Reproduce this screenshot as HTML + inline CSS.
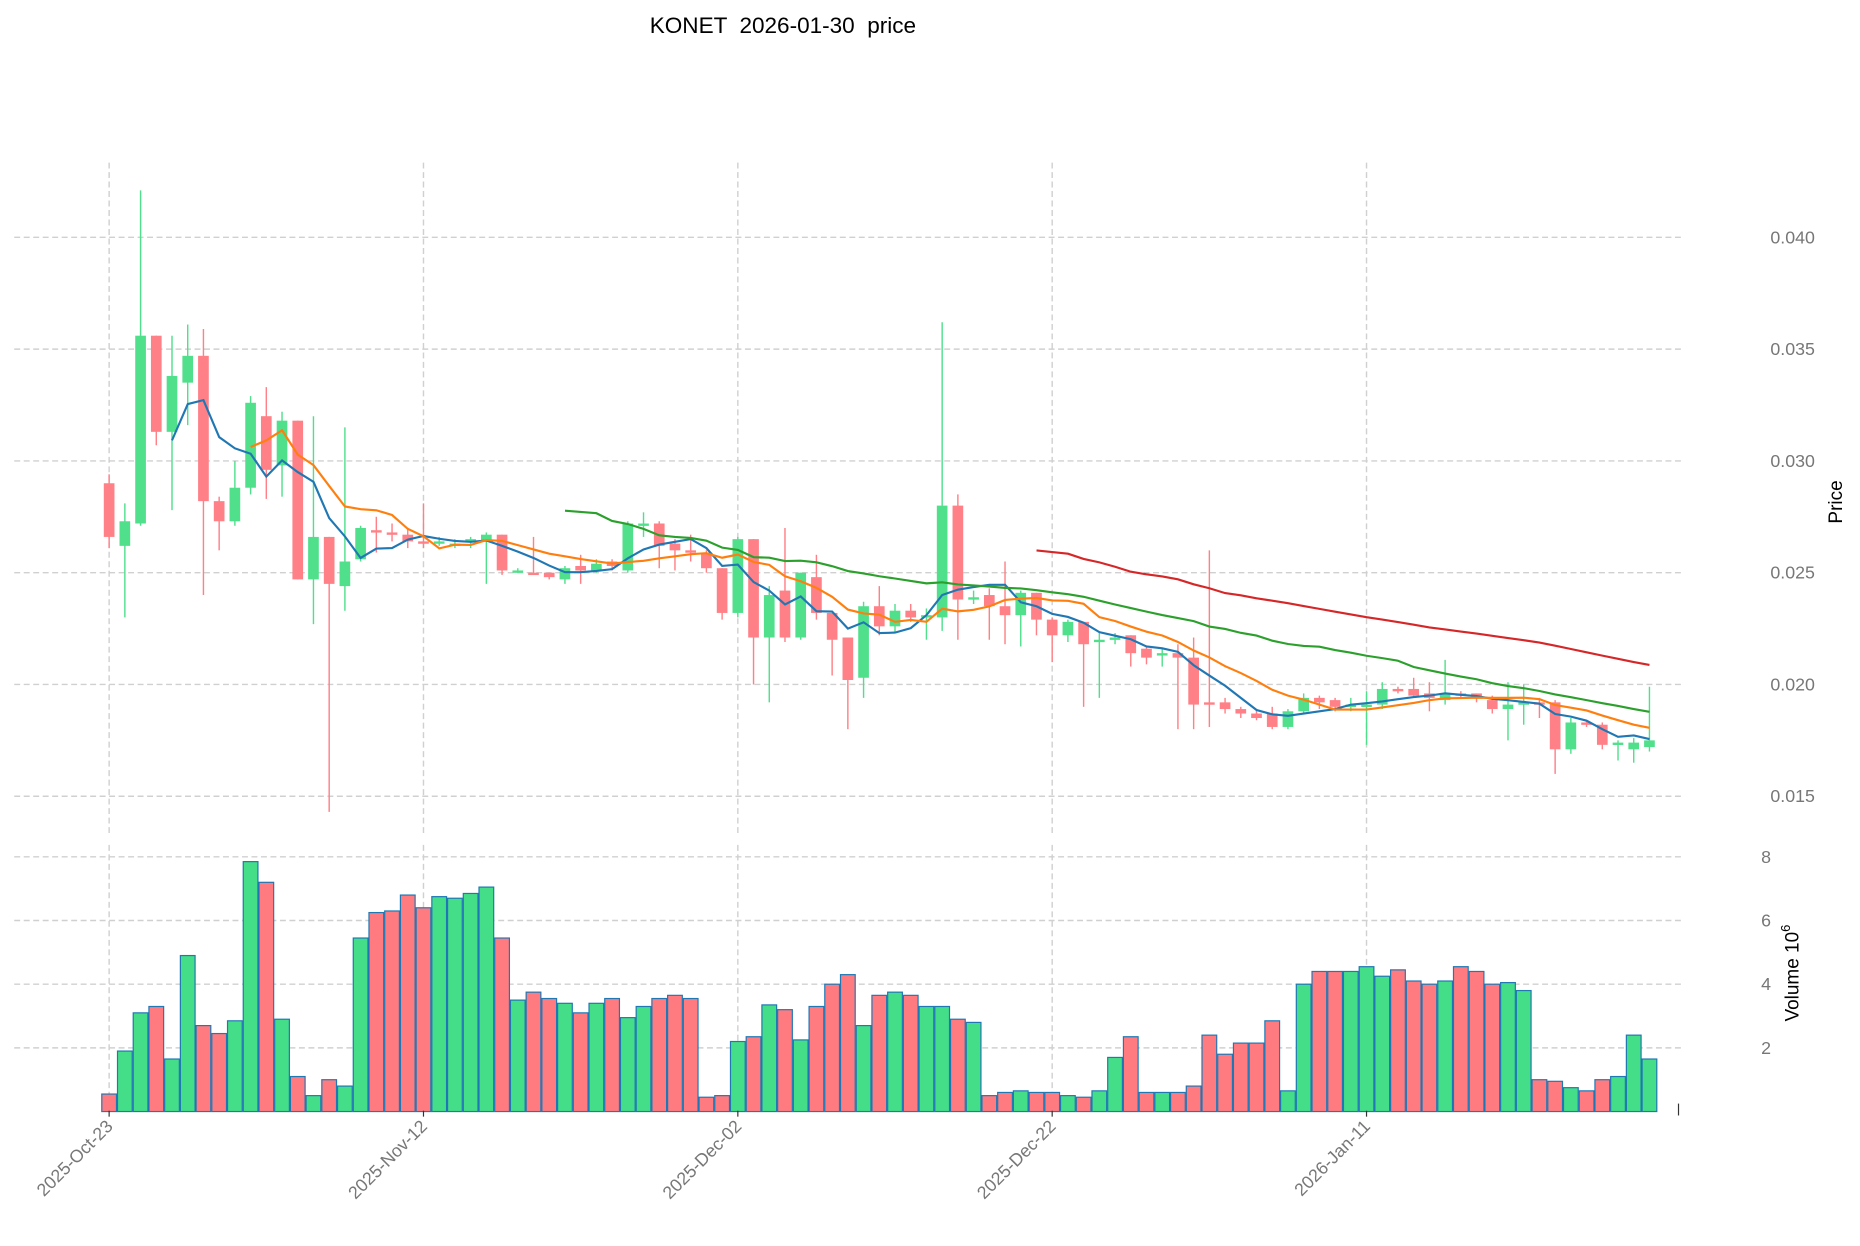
<!DOCTYPE html>
<html><head><meta charset="utf-8"><style>
body{margin:0;background:#fff;}
svg{display:block;font-family:"Liberation Sans","DejaVu Sans",sans-serif;}
</style></head><body>
<svg id="chart" width="1860" height="1246" viewBox="0 0 1568 1050" preserveAspectRatio="none" xmlns="http://www.w3.org/2000/svg">
<text x="660" y="28" font-size="19" text-anchor="middle" fill="#000" xml:space="preserve">KONET  2026-01-30  price</text>
<g id="grid"></g>
<g id="vol"></g>
<g id="candles"></g>
<g id="mas"></g>
<g id="axes"></g>
<text transform="translate(1553,423) rotate(-90)" font-size="16" text-anchor="middle" fill="#000">Price</text>
<text transform="translate(1516,820) rotate(-90)" font-size="16" text-anchor="middle" fill="#000">Volume  10<tspan dy="-7" font-size="11">6</tspan></text>
</svg>
<script>
const dateLabels=["2025-Oct-23","2025-Nov-12","2025-Dec-02","2025-Dec-22","2026-Jan-11"];
const dateIdx=[0,20,40,60,80];
const priceTicks=[0.015,0.020,0.025,0.030,0.035,0.040];
const volTicks=[2,4,6,8];
const opens=[.0290,.0262,.0272,.0356,.0313,.0335,.0347,.0282,.0273,.0288,.0320,.0298,.0318,.0247,.0266,.0244,.0256,.0269,.0268,.0267,.0264,.0263,.0262,.0264,.0264,.0267,.0251,.0250,.0250,.0247,.0253,.0251,.0255,.0251,.0271,.0272,.0263,.0260,.0259,.0252,.0232,.0265,.0221,.0242,.0221,.0248,.0232,.0221,.0203,.0235,.0226,.0233,.0230,.0230,.0280,.0238,.0240,.0235,.0231,.0241,.0229,.0222,.0228,.0219,.0220,.0222,.0216,.0213,.0214,.0212,.0192,.0192,.0189,.0187,.0187,.0181,.0188,.0194,.0193,.0190,.0190,.0191,.0198,.0198,.0196,.0193,.0196,.0196,.0193,.0189,.0191,.0192,.0192,.0171,.0183,.0182,.0173,.0171,.0172];
const closes=[.0266,.0273,.0356,.0313,.0338,.0347,.0282,.0273,.0288,.0326,.0296,.0318,.0247,.0266,.0245,.0255,.0270,.0268,.0267,.0264,.0263,.0264,.0263,.0265,.0267,.0251,.0251,.0249,.0248,.0252,.0251,.0254,.0253,.0272,.0272,.0262,.0260,.0259,.0252,.0232,.0265,.0221,.0240,.0221,.0250,.0232,.0220,.0202,.0235,.0226,.0233,.0230,.0231,.0280,.0238,.0239,.0235,.0231,.0241,.0229,.0222,.0228,.0218,.0220,.0221,.0214,.0212,.0214,.0212,.0191,.0191,.0189,.0187,.0185,.0181,.0188,.0194,.0192,.0190,.0191,.0191,.0198,.0197,.0195,.0194,.0196,.0195,.0194,.0189,.0191,.0192,.0191,.0171,.0183,.0182,.0173,.0174,.0174,.0175];
const highs=[.0294,.0281,.0421,.0356,.0356,.0361,.0359,.0284,.0300,.0329,.0333,.0322,.0318,.0320,.0266,.0315,.0271,.0275,.0272,.0270,.0281,.0266,.0265,.0266,.0268,.0267,.0252,.0266,.0250,.0253,.0258,.0256,.0256,.0273,.0277,.0273,.0265,.0267,.0260,.0252,.0266,.0265,.0244,.0270,.0250,.0258,.0232,.0221,.0237,.0244,.0236,.0236,.0234,.0362,.0285,.0242,.0243,.0255,.0242,.0241,.0230,.0229,.0228,.0223,.0223,.0222,.0217,.0216,.0218,.0221,.0260,.0194,.0190,.0189,.0190,.0189,.0196,.0195,.0194,.0194,.0197,.0201,.0199,.0203,.0201,.0211,.0197,.0196,.0195,.0201,.0200,.0194,.0193,.0185,.0184,.0183,.0175,.0176,.0199];
const lows=[.0261,.0230,.0271,.0307,.0278,.0316,.0240,.0260,.0271,.0285,.0283,.0284,.0247,.0227,.0143,.0233,.0255,.0259,.0264,.0261,.0261,.0262,.0261,.0261,.0245,.0249,.0250,.0249,.0247,.0245,.0245,.0250,.0251,.0250,.0266,.0252,.0251,.0255,.0250,.0229,.0230,.0200,.0192,.0219,.0220,.0229,.0204,.0180,.0194,.0222,.0223,.0228,.0220,.0224,.0220,.0236,.0220,.0218,.0217,.0222,.0210,.0219,.0190,.0194,.0218,.0208,.0209,.0208,.0180,.0180,.0181,.0187,.0185,.0184,.0180,.0180,.0187,.0189,.0188,.0188,.0173,.0189,.0196,.0194,.0188,.0191,.0194,.0192,.0187,.0175,.0182,.0185,.0160,.0169,.0181,.0171,.0166,.0165,.0170];
const volumes=[0.55,1.9,3.1,3.3,1.65,4.9,2.7,2.45,2.85,7.85,7.2,2.9,1.1,0.5,1.0,0.8,5.45,6.25,6.3,6.8,6.4,6.75,6.7,6.85,7.05,5.45,3.5,3.75,3.55,3.4,3.1,3.4,3.55,2.95,3.3,3.55,3.65,3.55,0.45,0.5,2.2,2.35,3.35,3.2,2.25,3.3,4.0,4.3,2.7,3.65,3.75,3.65,3.3,3.3,2.9,2.8,0.5,0.6,0.65,0.6,0.6,0.5,0.45,0.65,1.7,2.35,0.6,0.6,0.6,0.8,2.4,1.8,2.15,2.15,2.85,0.65,4.0,4.4,4.4,4.4,4.55,4.25,4.45,4.1,4.0,4.1,4.55,4.4,4.0,4.05,3.8,1.0,0.95,0.75,0.65,1.0,1.1,2.4,1.65];
const maPeriods=[5,10,30,60];
const maColors=["#1f77b4","#ff7f0e","#2ca02c","#d62728"];

const NS="http://www.w3.org/2000/svg";
const X=i=>92+i*13.25;
const Y=p=>200+(0.040-p)*18840;
const VY=v=>936.7-v*26.83;
function mk(parent,tag,attrs){const e=document.createElementNS(NS,tag);for(const k in attrs)e.setAttribute(k,attrs[k]);document.getElementById(parent).appendChild(e);return e;}

priceTicks.forEach((t,k)=>{
  const l=mk('grid','line',{x1:12,x2:1418,y1:Y(t),y2:Y(t),stroke:'#d0d0d0','stroke-dasharray':'5,3','stroke-width':1.2});
  
  
  const tx=mk('axes','text',{x:1530,y:Y(t)+5,'font-size':15,'text-anchor':'end',fill:'#777'});
  tx.textContent=t.toFixed(3);
  
  
});
volTicks.forEach(t=>{
  const l=mk('grid','line',{x1:12,x2:1418,y1:VY(t),y2:VY(t),stroke:'#d0d0d0','stroke-dasharray':'5,3','stroke-width':1.2});
  
  
  const tx=mk('axes','text',{x:1493,y:VY(t)+5,'font-size':15,'text-anchor':'end',fill:'#777'});
  tx.textContent=t;
  
  
});
dateIdx.forEach((d,k)=>{
  const x=X(d);
  const a=mk('grid','line',{x1:x,x2:x,y1:137,y2:702,stroke:'#d0d0d0','stroke-dasharray':'5,3','stroke-width':1.2});
  
  
  const b=mk('grid','line',{x1:x,x2:x,y1:712,y2:936,stroke:'#d0d0d0','stroke-dasharray':'5,3','stroke-width':1.2});
  
  
  const tk=mk('axes','line',{x1:x,x2:x,y1:936,y2:941,stroke:'#333','stroke-width':1});
  
  
  const tx=mk('axes','text',{transform:`translate(${x+4},${950}) rotate(-45)`,'font-size':15,'text-anchor':'end',fill:'#777'});
  tx.textContent=dateLabels[k];
  
  
});
const et=mk('axes','line',{x1:1415,x2:1415,y1:930,y2:940,stroke:'#333','stroke-width':1});



volumes.forEach((v,i)=>{
  const up=closes[i]>=opens[i];
  const r=mk('vol','rect',{x:X(i)-6.2,y:VY(v),width:12.4,height:936.7-VY(v),fill:up?'#44dd88':'#ff7b7f',stroke:'#1f77b4','stroke-width':1});
  
  
});
opens.forEach((o,i)=>{
  const c=closes[i],up=c>=o,col=up?'#50e08c':'#ff8086';
  const w=mk('candles','line',{x1:X(i),x2:X(i),y1:Y(highs[i]),y2:Y(lows[i]),stroke:col,'stroke-width':1.2});
  
  
  const top=Y(Math.max(o,c)),h=Math.max(2,Math.abs(Y(o)-Y(c)));
  const b=mk('candles','rect',{x:X(i)-4.5,y:top,width:9,height:h,fill:col});
  
  
});
maPeriods.forEach((p,k)=>{
  const pts=[];
  for(let i=p-1;i<closes.length;i++){let s=0;for(let j=i-p+1;j<=i;j++)s+=closes[j];pts.push(X(i).toFixed(1)+','+Y(s/p).toFixed(1));}
  const pl=mk('mas','polyline',{points:pts.join(' '),fill:'none',stroke:maColors[k],'stroke-width':1.8});
  
  
});
</script>
</body></html>
